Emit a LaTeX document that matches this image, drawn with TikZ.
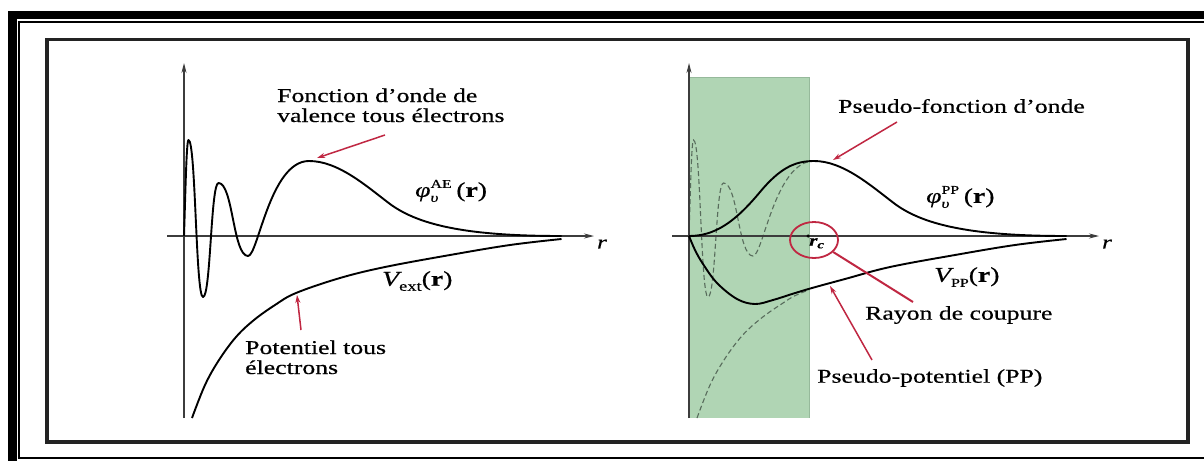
\documentclass[tikz,border=0pt]{standalone}
\usepackage{fontspec}
\setmainfont{Liberation Serif}[FakeBold=0.4]
\usepackage{graphicx}
\usetikzlibrary{arrows.meta,shapes.geometric}
\newcommand{\wtxt}[1]{\scalebox{1.32}[1]{#1}}
\newcommand{\subsup}[2]{\rlap{\raisebox{-5pt}{\fontsize{13}{13}\selectfont\itshape #1}}\raisebox{9pt}{\fontsize{12}{12}\selectfont #2}}
\definecolor{refgreen}{RGB}{176,213,180}
\definecolor{refgreenedge}{RGB}{150,185,155}
\definecolor{refred}{RGB}{192,39,66}
\definecolor{axisgray}{RGB}{60,60,60}
\definecolor{ghostgray}{RGB}{88,108,92}
\begin{document}
\begin{tikzpicture}[x=1pt,y=-1pt,
  axis/.style={draw=axisgray, line width=1.1pt, -{Stealth[length=10pt,width=5pt]}},
  curve/.style={draw=black, line width=1.9pt, line join=round},
  ghost/.style={draw=ghostgray, line width=1.1pt, dash pattern=on 5pt off 3pt},
  callout/.style={draw=refred, line width=1.5pt, -{Stealth[length=8pt,width=5pt]}},
  lbl/.style={inner sep=0pt, anchor=west, font=\fontsize{19.5}{20}\selectfont},
  mlbl/.style={inner sep=0pt, anchor=west, font=\fontsize{21}{22}\selectfont},
  rlbl/.style={inner sep=0pt, font=\fontsize{19}{19}\selectfont\itshape}]
\useasboundingbox (0,0) rectangle (1204,461);
\fill[white] (0,0) rectangle (1204,461);
% outer page border
\fill[black] (8,11) rectangle (1204,19);
\fill[black] (8,11) rectangle (17,461);
\draw[line width=1.6pt] (1204,22) -- (19,22) -- (19,458) -- (1204,458);
% inner frame
\draw[line width=3.5pt, draw={rgb,255:red,35;green,35;blue,35}] (47,39.5) rectangle (1188,442);

% ---------------- left panel ----------------
\coordinate (ly0) at (184,418);
\coordinate (ly1) at (184,63);
\coordinate (lx0) at (167,236);
\coordinate (lx1) at (594,236);
\draw[axis] (ly0) -- (ly1);
\draw[axis] (lx0) -- (lx1);
\node[rlbl] (lr) at (602,244) {\wtxt{r}};

\draw[curve] (184,236) .. controls (185.5,190) and (186.5,140) .. (188.5,140)
  .. controls (195.75,140) and (195.75,297) .. (203,297)
  .. controls (210.75,297) and (210.75,183) .. (218.5,183)
  .. controls (233,183) and (233,256) .. (248,256)
  .. controls (258,256) and (270,161) .. (309,161)
  .. controls (338,161) and (365,185) .. (390,204)
  .. controls (420,226) and (470,236) .. (561.5,236);
\draw[curve] plot[smooth, tension=0.6] coordinates {(192,418) (205,385) (219,360) (236,337) (254,320) (275,305) (296,293) (340,278) (385,267) (450,255) (510,245) (561.5,239)};

\node[lbl] (fonc) at (277,108) {\wtxt{\begin{tabular}{@{}l@{}}Fonction d'onde de\\valence tous électrons\end{tabular}}};
\node[mlbl] (phiae) at (415,191) {\wtxt{\itshape φ\subsup{υ}{\upshape AE}\,\upshape(\textbf{r})}};
\node[mlbl] (vext) at (382,281) {\wtxt{\itshape V\raisebox{-5pt}{\fontsize{14}{14}\selectfont\upshape ext}\upshape(\textbf{r})}};
\node[lbl] (pot) at (245,360) {\wtxt{\begin{tabular}{@{}l@{}}Potentiel tous\\électrons\end{tabular}}};

\coordinate (a1s) at (385,135);
\coordinate (a1e) at (317,158);
\coordinate (a2s) at (301,330);
\coordinate (a2e) at (297,295);
\draw[callout] (a1s) -- (a1e);
\draw[callout] (a2s) -- (a2e);

% ---------------- right panel ----------------
\fill[refgreen] (689,77) rectangle (809,418);
\draw[refgreenedge, line width=0.8pt] (809,77) -- (809,418);
\draw[refgreenedge, line width=0.8pt] (689,77) -- (809,77);
\begin{scope}
  \clip (689,60) rectangle (809,420);
  \begin{scope}[xshift=505pt]
    \draw[ghost] (184,236) .. controls (185.5,190) and (186.5,140) .. (188.5,140)
      .. controls (195.75,140) and (195.75,297) .. (203,297)
      .. controls (210.75,297) and (210.75,183) .. (218.5,183)
      .. controls (233,183) and (233,256) .. (248,256)
      .. controls (258,256) and (270,161) .. (309,161)
      .. controls (338,161) and (365,185) .. (390,204);
    \draw[ghost] plot[smooth, tension=0.6] coordinates {(192,418) (205,385) (219,360) (236,337) (254,320) (275,305) (296,293) (340,278)};
  \end{scope}
\end{scope}

\coordinate (ry0) at (689,418);
\coordinate (ry1) at (689,63);
\coordinate (rx0) at (672,236);
\coordinate (rx1) at (1099,236);
\draw[axis] (ry0) -- (ry1);
\draw[axis] (rx0) -- (rx1);
\node[rlbl] (rr) at (1107,244) {\wtxt{r}};

\draw[curve] (689,236) .. controls (715,236) and (735,222) .. (760,192)
  .. controls (780,168) and (795,161) .. (814,161)
  .. controls (843,161) and (870,185) .. (895,204)
  .. controls (925,226) and (975,236) .. (1066.5,236);
\draw[curve] plot[smooth, tension=0.6] coordinates {(689,236) (695,250) (703,264) (717,283) (737,299) (755,304) (773,300) (792,294) (812,288) (845,279) (890,267) (955,255) (1015,245) (1066.5,239)};

\node[circle, fill=black, inner sep=0pt, minimum size=3.5pt] (rcdot) at (808,236) {};
\node[anchor=north west, inner sep=0pt, font=\fontsize{16}{16}\selectfont] (rclbl) at (809,238) {\wtxt{\bfseries\itshape r\textsubscript{c}}};
\node[ellipse, draw=refred, line width=1.8pt, minimum width=48pt, minimum height=36pt, inner sep=0pt] (cut) at (814,240) {};
\coordinate (cutend) at (913,302);
\draw[refred, line width=2pt] (cut) -- (cutend);

\node[lbl] (pfo) at (838,106) {\wtxt{Pseudo-fonction d'onde}};
\node[mlbl] (phipp) at (926,197) {\wtxt{\itshape φ\subsup{υ}{\upshape PP}\,\upshape(\textbf{r})}};
\node[mlbl] (vpp) at (934,277) {\wtxt{\itshape V\raisebox{-5pt}{\fontsize{12}{12}\selectfont\upshape PP}\upshape(\textbf{r})}};
\node[lbl] (rayon) at (865,315) {\wtxt{Rayon de coupure}};
\node[lbl] (ppot) at (817,378) {\wtxt{Pseudo-potentiel (PP)}};

\coordinate (a3s) at (897,122);
\coordinate (a3e) at (833,160);
\coordinate (a4s) at (872,360);
\coordinate (a4e) at (830,286);
\draw[callout] (a3s) -- (a3e);
\draw[callout] (a4s) -- (a4e);
\end{tikzpicture}
\end{document}
